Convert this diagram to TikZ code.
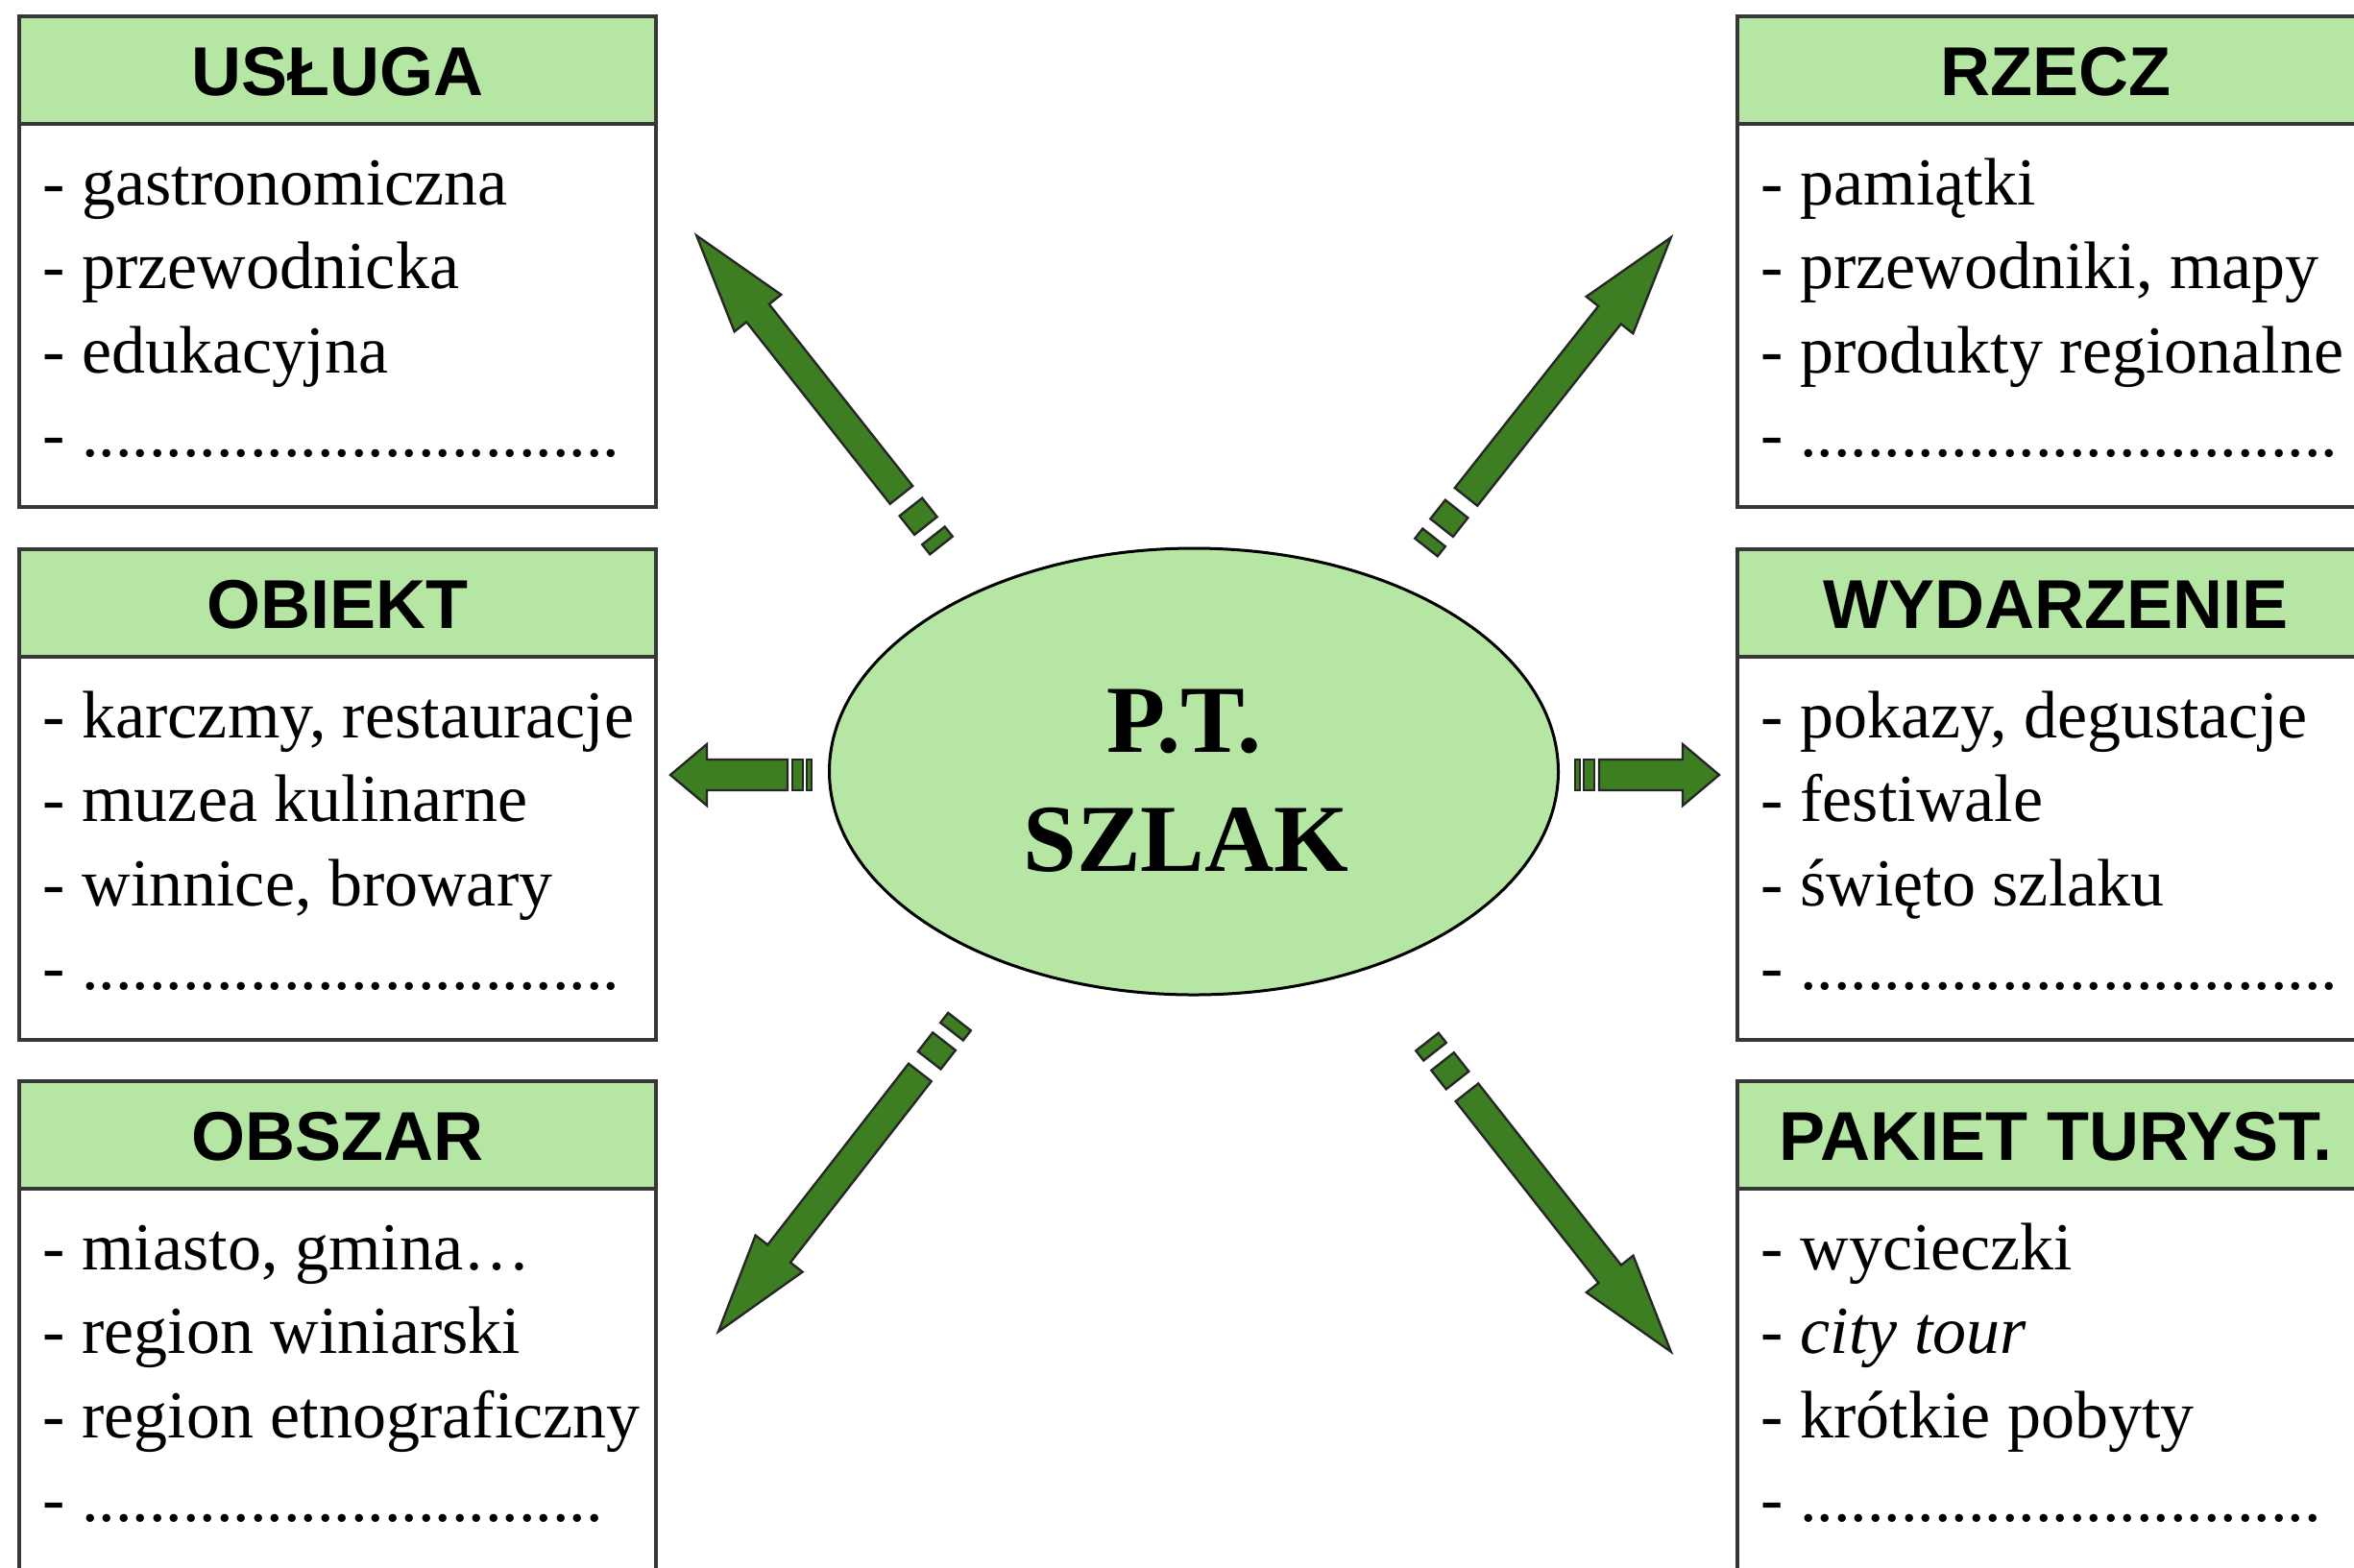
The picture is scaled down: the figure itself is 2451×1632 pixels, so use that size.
\documentclass[tikz,border=0pt]{standalone}
\usepackage{fontspec}
\setmainfont{Liberation Serif}
\newfontfamily\hsans{Liberation Sans}
\usetikzlibrary{calc,shapes.geometric}
\definecolor{lgreen}{RGB}{181,230,163}
\definecolor{dgreen}{RGB}{62,126,34}
\definecolor{bordergray}{RGB}{55,55,55}
\tikzset{
  boxline/.style={draw=bordergray, line width=1.1pt},
  hdrtext/.style={inner sep=0pt, anchor=base, font={\hsans\bfseries\fontsize{21.6pt}{26pt}\selectfont}},
  itemtext/.style={inner sep=0pt, anchor=base west, font={\fontsize{21pt}{26pt}\selectfont}},
  centertext/.style={inner sep=0pt, anchor=base, font={\bfseries\fontsize{30pt}{36pt}\selectfont}},
  blockarr/.style={fill=dgreen, draw=black!85, line width=0.7pt, line join=miter},
  hub/.style={ellipse, draw=black, line width=0.9pt, fill=lgreen, minimum width=227.7pt, minimum height=139.5pt, inner sep=0pt}
}
\newcommand\dotrow[1]{- \foreach\i in {1,...,#1}{.}}
% #1 name, #2 left x, #3 top y, #4 title, #5 items
\newcommand\catbox[5]{%
  \fill[lgreen] (#2,#3) rectangle ++(663,112);
  \draw[boxline] (#2,#3) rectangle ++(663,511);
  \draw[boxline] (#2,#3+112) -- ++(663,0);
  \node[hdrtext] (#1-title) at (#2+331.5,#3+82) {#4};
  \foreach \t [count=\k] in {#5} {\node[itemtext] (#1-\k) at (#2+24,#3+196+87.5*\k-87.5) {\t};}
}
% #1 tail, #2 tip, #3 head length, #4 head half width, #5 shaft half width,
% #6 thin stripe end, #7 square start, #8 square end, #9 shaft start
\newcommand\blockarrow[9]{%
  \path let \p1=($(#2)-(#1)$) in \pgfextra{%
    \pgfmathsetmacro\arrang{atan2(\y1,\x1)}%
    \pgfmathsetmacro\arrlen{veclen(\x1,\y1)/0.3}%
    \xdef\garrang{\arrang}\xdef\garrlen{\arrlen}};
  \begin{scope}[shift={(#1)},rotate=\garrang]
    \pgfmathsetmacro\hb{\garrlen-#3}
    \filldraw[blockarr] (0,-#5) rectangle (#6,#5);
    \filldraw[blockarr] (#7,-#5) rectangle (#8,#5);
    \filldraw[blockarr] (#9,-#5) -- (\hb,-#5) -- (\hb,-#4) -- (\garrlen,0) -- (\hb,#4) -- (\hb,#5) -- (#9,#5) -- cycle;
  \end{scope}
}
\begin{document}
\begin{tikzpicture}[x=0.3pt,y=-0.3pt]
  \useasboundingbox (0,0) rectangle (2451,1632);
  \clip (0,0) rectangle (2451,1632);
  \fill[white] (0,0) rectangle (2451,1632);

  \catbox{usluga}{20}{17}{USŁUGA}{{- gastronomiczna},{- przewodnicka},{- edukacyjna},{\dotrow{32}}}
  \catbox{obiekt}{20}{572}{OBIEKT}{{- karczmy, restauracje},{- muzea kulinarne},{- winnice, browary},{\dotrow{32}}}
  \catbox{obszar}{20}{1126}{OBSZAR}{{- miasto, gmina…},{- region winiarski},{- region etnograficzny},{\dotrow{31}}}
  \catbox{rzecz}{1809}{17}{RZECZ}{{- pamiątki},{- przewodniki, mapy},{- produkty regionalne},{\dotrow{32}}}
  \catbox{wydarzenie}{1809}{572}{WYDARZENIE}{{- pokazy, degustacje},{- festiwale},{- święto szlaku},{\dotrow{32}}}
  \catbox{pakiet}{1809}{1126}{PAKIET TURYST.}{{- wycieczki},{- \textit{city tour}},{- krótkie pobyty},{\dotrow{31}}}

  \node[hub] (szlak) at (1243,803.5) {};
  \node[centertext] (pt) at (1233,783) {P.T.};
  \node[centertext] (szlaktext) at (1235,907) {SZLAK};

  \coordinate (nwtail) at (980,568);   \coordinate (nwtip) at (725,245);
  \coordinate (netail) at (1485,570);  \coordinate (netip) at (1740,247);
  \coordinate (swtail) at (999,1064);  \coordinate (swtip) at (747,1388);
  \coordinate (setail) at (1486,1085); \coordinate (setip) at (1740,1408);
  \coordinate (wtail) at (845,807);    \coordinate (wtip) at (698,807);
  \coordinate (etail) at (1640,807);   \coordinate (etip) at (1790,807);

  \blockarrow{nwtail}{nwtip}{103}{31}{15}{13}{26}{51}{67}
  \blockarrow{netail}{netip}{103}{31}{15}{13}{26}{51}{67}
  \blockarrow{swtail}{swtip}{103}{31}{15}{13}{26}{51}{67}
  \blockarrow{setail}{setip}{103}{31}{15}{13}{26}{51}{67}
  \blockarrow{wtail}{wtip}{38}{32}{16}{5}{9}{20}{25}
  \blockarrow{etail}{etip}{38}{32}{16}{5}{9}{20}{25}
\end{tikzpicture}
\end{document}
